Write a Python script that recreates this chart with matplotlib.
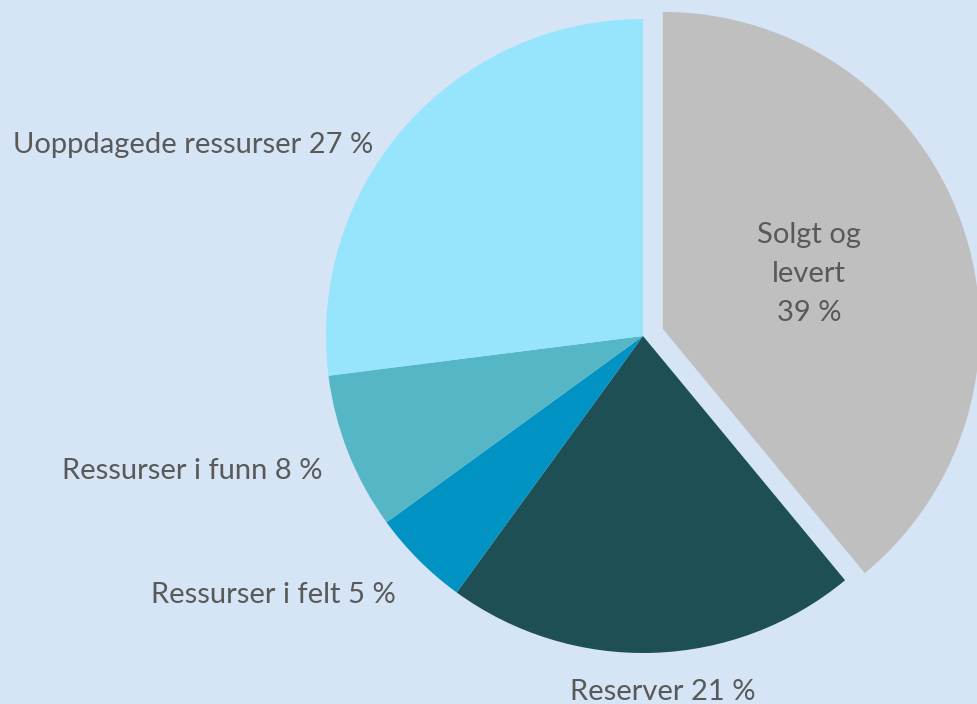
import matplotlib
matplotlib.use("Agg")
import matplotlib.pyplot as plt
import numpy as np

labels = ["Solgt og\nlevert\n39 %", "Reserver 21 %", "Ressurser i felt 5 %",
          "Ressurser i funn 8 %", "Uoppdagede ressurser 27 %"]
values = [39, 21, 5, 8, 27]
colors = ["#BFBFBF", "#1D4F55", "#0093C4", "#55B6C6", "#97E4FD"]

# layout (pixels / degrees)
W, H = 977, 704
R = 317
cx, cy = 643, H - 336
explode_px = [21, 0, 0, 0, 0]
lab_ang = [20.6, 273.1, 227.2, 204.1, 145.9]
lab_r = [0.492, 1.150, 1.147, 1.106, 1.029]
lab_ha = ["center", "center", "right", "right", "right"]
lab_va = ["center", "baseline", "baseline", "baseline", "baseline"]

bg = "#D5E5F6"
fig = plt.figure(figsize=(W / 100, H / 100), dpi=100, facecolor=bg)
ax = fig.add_axes([0, 0, 1, 1])
ax.set_facecolor(bg)

wedges, _ = ax.pie(values, colors=colors, startangle=90, counterclock=False,
                   radius=R, center=(cx, cy), explode=explode_px,
                   wedgeprops=dict(linewidth=0), frame=True)
ax.set_xlim(0, W)
ax.set_ylim(0, H)
ax.set_aspect("equal")
ax.axis("off")

for w, lab, a, d, ha, va in zip(wedges, labels, lab_ang, lab_r, lab_ha, lab_va):
    x0, y0 = w.center
    t = np.deg2rad(a)
    ax.text(x0 + d * R * np.cos(t), y0 + d * R * np.sin(t), lab, ha=ha, va=va,
            fontsize=21, color="#595959", family=["Lato", "DejaVu Sans"],
            linespacing=1.6, multialignment="center")

fig.savefig("out.png", dpi=100, facecolor=bg)
